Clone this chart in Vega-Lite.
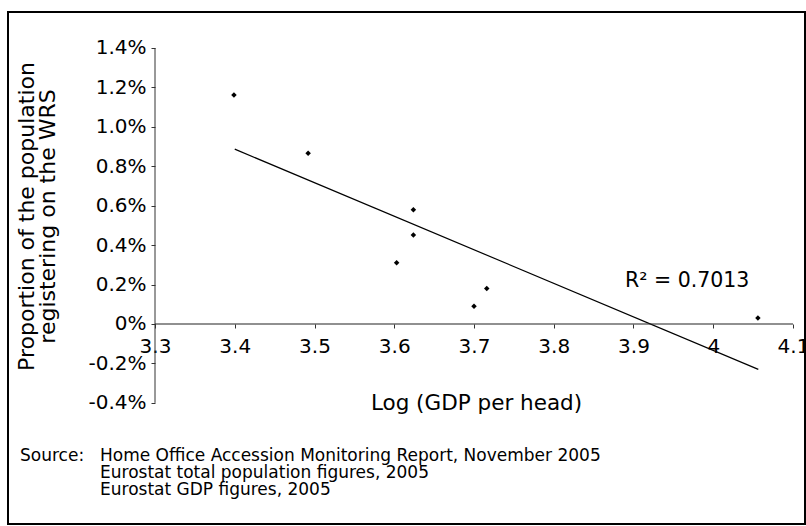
{
  "$schema": "https://vega.github.io/schema/vega-lite/v6.json",
  "width": 797,
  "height": 512,
  "autosize": {"type": "pad"},
  "padding": {"left": 8, "top": 12, "right": 1, "bottom": 2},
  "config": {
    "view": {"stroke": "black", "strokeWidth": 2},
    "font": "DejaVu Sans",
    "text": {"color": "black"}
  },
  "datasets": {
    "points": [
      {"x": 3.399, "y": 0.01162},
      {"x": 3.492, "y": 0.00866},
      {"x": 3.624, "y": 0.00579},
      {"x": 3.624, "y": 0.00452},
      {"x": 3.603, "y": 0.00311},
      {"x": 3.700, "y": 0.00090},
      {"x": 3.716, "y": 0.00180},
      {"x": 4.056, "y": 0.00030}
    ],
    "trend": [
      {"x": 3.4, "y": 0.00887},
      {"x": 4.0565, "y": -0.00230}
    ]
  },
  "layer": [
    {
      "data": {"name": "points"},
      "mark": {"type": "point", "shape": "diamond", "filled": true, "color": "black", "size": 30, "opacity": 1},
      "encoding": {
        "x": {
          "field": "x", "type": "quantitative",
          "scale": {"domain": [3.11567, 4.11505], "nice": false, "zero": false},
          "axis": {
            "orient": "bottom", "offset": -200, "domain": false, "grid": false,
            "values": [3.3, 3.4, 3.5, 3.6, 3.7, 3.8, 3.9, 4.0, 4.1],
            "format": "~g", "labelFlush": false, "labelOverlap": false,
            "tickSize": 4, "tickColor": "#333", "labelPadding": 8,
            "labelFontSize": 20, "labelColor": "black",
            "title": "Log (GDP per head)", "titleX": 468, "titleY": 85,
            "titleAlign": "center", "titleBaseline": "alphabetic",
            "titleFontSize": 21.5, "titleFontWeight": "normal", "titleColor": "black"
          }
        },
        "y": {
          "field": "y", "type": "quantitative",
          "scale": {"domain": [-0.0101449, 0.015826], "nice": false, "zero": false},
          "axis": {
            "orient": "left", "offset": -147, "domain": false, "grid": false,
            "values": [-0.004, -0.002, 0, 0.002, 0.004, 0.006, 0.008, 0.01, 0.012, 0.014],
            "labelExpr": "datum.value == 0 ? '0%' : replace(format(datum.value, '.1%'), '\u2212', '-')",
            "labelOverlap": false, "labelFlush": false,
            "tickSize": 4, "tickColor": "#333", "labelPadding": 5,
            "labelFontSize": 20, "labelColor": "black",
            "title": ["Proportion of the population", "registering on the WRS"],
            "titleAngle": -90, "titleX": -121.5, "titleY": 204,
            "titleAlign": "center", "titleBaseline": "alphabetic",
            "titleLineHeight": 21,
            "titleFontSize": 22, "titleFontWeight": "normal", "titleColor": "black"
          }
        }
      }
    },
    {
      "data": {"name": "trend"},
      "mark": {"type": "line", "color": "black", "strokeWidth": 1.2},
      "encoding": {
        "x": {"field": "x", "type": "quantitative"},
        "y": {"field": "y", "type": "quantitative"}
      }
    },
    {
      "data": {"values": [{"a": 1}]},
      "mark": {"type": "rule", "color": "#333", "strokeWidth": 1},
      "encoding": {
        "x": {"datum": 3.3, "type": "quantitative"},
        "y": {"datum": -0.004, "type": "quantitative"},
        "y2": {"datum": 0.014}
      }
    },
    {
      "data": {"values": [{"a": 1}]},
      "mark": {"type": "rule", "color": "#222", "strokeWidth": 1.2},
      "encoding": {
        "x": {"datum": 3.3, "type": "quantitative"},
        "x2": {"datum": 4.1},
        "y": {"datum": 0, "type": "quantitative"}
      }
    },
    {
      "data": {"values": [{"t": "R² = 0.7013"}]},
      "mark": {"type": "text", "align": "left", "baseline": "alphabetic", "fontSize": 20.5},
      "encoding": {
        "x": {"datum": 3.8893, "type": "quantitative"},
        "y": {"datum": 0.0019, "type": "quantitative"},
        "text": {"field": "t"}
      }
    },
    {
      "data": {"values": [{"t": "Source:"}]},
      "mark": {"type": "text", "align": "left", "baseline": "alphabetic", "fontSize": 17},
      "encoding": {
        "x": {"datum": 3.13072, "type": "quantitative"},
        "y": {"datum": -0.006949, "type": "quantitative"},
        "text": {"field": "t"}
      }
    },
    {
      "data": {"values": [{"t": "Home Office Accession Monitoring Report, November 2005\nEurostat total population figures, 2005\nEurostat GDP figures, 2005"}]},
      "mark": {"type": "text", "align": "left", "baseline": "alphabetic", "fontSize": 17, "lineBreak": "\n", "lineHeight": 17},
      "encoding": {
        "x": {"datum": 3.23103, "type": "quantitative"},
        "y": {"datum": -0.006949, "type": "quantitative"},
        "text": {"field": "t"}
      }
    }
  ]
}
